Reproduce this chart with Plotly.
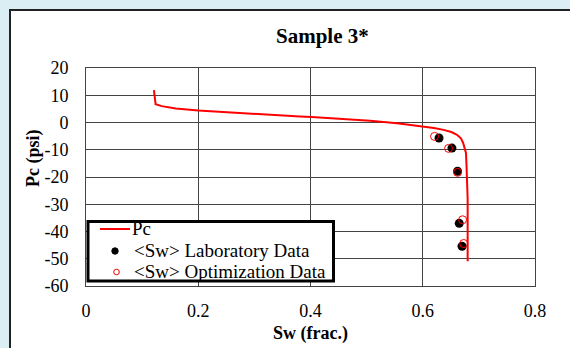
import plotly.graph_objects as go

# Pc curve
pc_sw = [0.121, 0.124, 0.135, 0.144, 0.160, 0.200, 0.275, 0.330, 0.381, 0.402, 0.450, 0.506,
         0.554, 0.601, 0.620, 0.637, 0.651, 0.661, 0.668, 0.672, 0.675, 0.677, 0.678, 0.679,
         0.680, 0.680]
pc_vals = [11.9, 6.7, 6.0, 5.6, 5.1, 4.4, 3.4, 2.8, 2.2, 2.0, 1.4, 0.6,
           -0.3, -1.5, -2.0, -2.7, -3.5, -4.5, -5.8, -7.5, -9.3, -11.2, -16.0, -22.0,
           -28.0, -50.9]

# Laboratory data
lab_sw = [0.629, 0.652, 0.662, 0.665, 0.670]
lab_pc = [-5.7, -9.4, -17.9, -37.0, -45.4]

# Optimization data
opt_sw = [0.621, 0.646, 0.662, 0.671, 0.673]
opt_pc = [-5.1, -9.5, -18.3, -35.7, -44.4]

x_ticks = [0, 0.2, 0.4, 0.6, 0.8]
x_ticktext = ["0", "0.2", "0.4", "0.6", "0.8"]
y_ticks = [20, 10, 0, -10, -20, -30, -40, -50, -60]
y_ticktext = ["20", "10", "0", "-10", "-20", "-30", "-40", "-50", "-60"]

series_names = ["Pc", "&lt;Sw&gt; Laboratory Data", "&lt;Sw&gt; Optimization Data"]

FONT = "Liberation Serif"
RED = "#ff0000"

fig = go.Figure()
fig.add_trace(go.Scatter(x=pc_sw, y=pc_vals, mode="lines", name=series_names[0],
                         line=dict(color=RED, width=2)))
fig.add_trace(go.Scatter(x=lab_sw, y=lab_pc, mode="markers", name=series_names[1],
                         marker=dict(symbol="circle", size=9, color="black")))
fig.add_trace(go.Scatter(x=opt_sw, y=opt_pc, mode="markers", name=series_names[2],
                         marker=dict(symbol="circle-open", size=8, color=RED,
                                     line=dict(width=1))))

W, H = 570, 348
L, R, T, B = 86, 35, 68, 62
pw, ph = W - L - R, H - T - B


def px(x):
    return (x - L) / pw


def py(y):
    return (H - B - y) / ph


def rect(x0, y0, x1, y1, **kw):
    return dict(type="rect", xref="paper", yref="paper",
                x0=px(x0), x1=px(x1), y0=py(y1), y1=py(y0), **kw)


def circ(cx, cy, r, **kw):
    return dict(type="circle", xref="paper", yref="paper",
                x0=px(cx - r), x1=px(cx + r), y0=py(cy + r), y1=py(cy - r), **kw)


# legend drawn in the Excel style (compact rows)
leg_rows = [229, 251, 272]
shapes = [
    rect(10, 10, 600, 380, fillcolor="white", line=dict(color="#222", width=2), layer="below"),
    rect(88, 221.5, 333.5, 281, fillcolor="white", line=dict(color="black", width=3)),
    dict(type="line", xref="paper", yref="paper", x0=px(100), x1=px(130),
         y0=py(leg_rows[0]), y1=py(leg_rows[0]), line=dict(color=RED, width=2)),
    circ(115, leg_rows[1], 3.2, fillcolor="black", line=dict(color="black", width=1)),
    circ(116.5, leg_rows[2], 2.8, fillcolor="white", line=dict(color=RED, width=1)),
]

annotations = [
    dict(text="<b>Sample 3*</b>", xref="paper", yref="paper", x=px(322), y=py(36),
         xanchor="center", yanchor="middle", showarrow=False,
         font=dict(family=FONT, size=21)),
    dict(text="<b>Sw (frac.)</b>", xref="paper", yref="paper", x=px(310), y=py(333),
         xanchor="center", yanchor="middle", showarrow=False,
         font=dict(family=FONT, size=18)),
    dict(text="<b>Pc (psi)</b>", xref="paper", yref="paper", x=px(33), y=py(158),
         xanchor="center", yanchor="middle", showarrow=False, textangle=-90,
         font=dict(family=FONT, size=18)),
]
for i, name in enumerate(series_names):
    annotations.append(dict(text=name, xref="paper", yref="paper",
                            x=px(130 if i == 0 else 132), y=py(leg_rows[i] - 0.5),
                            xanchor="left", yanchor="middle", showarrow=False,
                            font=dict(family=FONT, size=19, color="black")))

fig.update_layout(
    width=W, height=H,
    margin=dict(l=L, r=R, t=T, b=B),
    paper_bgcolor="#dbeef3",
    plot_bgcolor="white",
    font=dict(family=FONT, size=18, color="black"),
    showlegend=False,
    shapes=shapes,
    annotations=annotations,
)
fig.update_xaxes(range=[0, 0.8], tickvals=x_ticks, ticktext=x_ticktext,
                 showgrid=True, gridcolor="#444", gridwidth=1,
                 showline=True, linecolor="#444", linewidth=1, mirror=True,
                 zeroline=False, ticks="", ticklabelstandoff=8,
                 tickfont=dict(family=FONT, size=18))
fig.update_yaxes(range=[-60, 20], tickvals=y_ticks, ticktext=y_ticktext,
                 showgrid=True, gridcolor="#444", gridwidth=1,
                 showline=True, linecolor="#444", linewidth=1, mirror=True,
                 zeroline=False, ticks="", ticklabelstandoff=13,
                 tickfont=dict(family=FONT, size=18))

fig.write_html("out.html")
